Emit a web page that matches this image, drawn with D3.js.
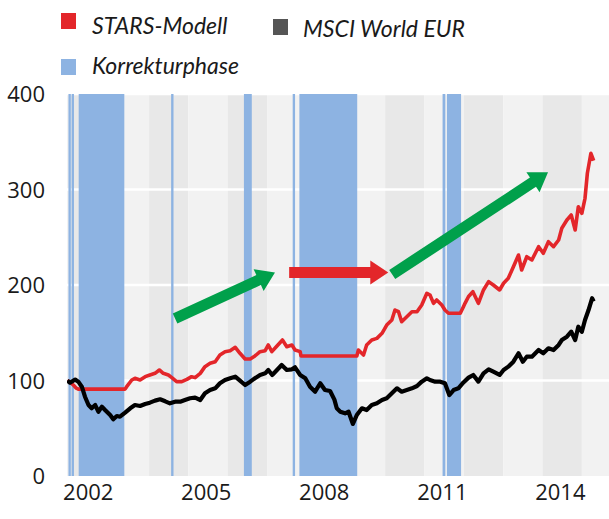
<!DOCTYPE html>
<html>
<head>
<meta charset="utf-8">
<script src="https://cdn.jsdelivr.net/npm/d3@7"></script>
<style>
  body { margin: 0; background: #fff; }
  text { font-family: "Open Sans", "Noto Sans", sans-serif; fill: #1a1a1a; }
  .legend text { font-family: Lato, "Open Sans", sans-serif; }
</style>
</head>
<body>
<svg id="chart" width="609" height="519"></svg>
<script>
// values (decimal year, index value)
const starsData = [
  [2001.92,100],[2002.00,98],[2002.08,95],[2002.15,92],[2002.20,91],[2003.39,91],
  [2003.43,93.5],[2003.56,100.5],[2003.64,102.3],[2003.77,100.5],[2003.90,104],
  [2004.02,105.8],[2004.15,107.5],[2004.26,111],[2004.36,107.5],[2004.49,105.8],
  [2004.57,103.3],[2004.70,98.8],[2004.83,98.8],[2004.96,101.2],[2005.08,104],
  [2005.17,103],[2005.30,107.5],[2005.42,114.5],[2005.55,118],[2005.68,119.7],
  [2005.80,126.7],[2005.93,130.2],[2006.06,131.2],[2006.19,134.8],[2006.31,128.5],
  [2006.44,122.5],[2006.57,122.5],[2006.69,125.7],[2006.82,130.2],[2006.95,131.2],
  [2007.03,137.2],[2007.12,130.2],[2007.25,136.1],[2007.39,142.4],[2007.50,135.4],
  [2007.63,137.2],[2007.71,131.9],[2007.84,130.2],[2007.86,125.7],[2009.28,125.7],
  [2009.32,131.9],[2009.45,126.7],[2009.53,137.2],[2009.66,142.4],[2009.79,144.1],
  [2009.92,149.4],[2010.04,158.1],[2010.17,163.4],[2010.25,173.8],[2010.34,172],
  [2010.42,161.6],[2010.55,166.8],[2010.68,172],[2010.81,172],[2010.93,179],
  [2011.06,191.3],[2011.14,189.5],[2011.23,180.8],[2011.31,184.3],[2011.44,179],
  [2011.52,173.8],[2011.61,170.4],[2011.91,170.4],[2011.99,177.3],[2012.03,180.8],
  [2012.12,188],[2012.23,193],[2012.37,180.8],[2012.50,194.8],[2012.63,203.5],
  [2012.75,200],[2012.91,194.8],[2013.01,201.8],[2013.13,207],[2013.26,219.2],
  [2013.39,231.4],[2013.47,215.7],[2013.60,229.6],[2013.73,226.2],[2013.90,240.1],
  [2014.02,233.2],[2014.15,245.3],[2014.28,240.1],[2014.41,247.1],[2014.49,259.4],
  [2014.62,268.1],[2014.73,273.3],[2014.83,257.6],[2014.91,282],[2015.00,275.1],
  [2015.08,290.8],[2015.14,317],[2015.23,337.9],[2015.30,330.2]
];

const msciData = [
  [2001.92,99.8],[2001.99,97.7],[2002.12,101],[2002.20,98.8],[2002.29,93.5],
  [2002.37,83],[2002.46,74.3],[2002.54,70.9],[2002.63,74.3],[2002.71,67.3],
  [2002.80,72.6],[2002.88,69.1],[2003.01,63.9],[2003.09,59.4],[2003.18,62.8],
  [2003.26,62.1],[2003.39,66.3],[2003.52,70.9],[2003.64,74.3],[2003.77,73.3],
  [2003.90,75.4],[2004.02,76.8],[2004.15,78.9],[2004.28,80.3],[2004.41,78.2],
  [2004.53,76.1],[2004.66,77.8],[2004.79,77.8],[2004.91,79.6],[2005.04,81.4],
  [2005.17,82],[2005.30,79.6],[2005.42,86.6],[2005.55,90],[2005.68,91.8],
  [2005.80,97.1],[2005.93,100.5],[2006.06,102.3],[2006.19,104],[2006.31,99.8],
  [2006.44,95.3],[2006.57,98.8],[2006.69,102.3],[2006.82,105.8],[2006.95,107.5],
  [2007.03,111],[2007.13,105.8],[2007.25,111],[2007.37,116.2],[2007.50,111],
  [2007.63,111.7],[2007.71,113.8],[2007.84,105.8],[2007.97,102.3],[2008.09,93.5],
  [2008.22,88.3],[2008.35,97.1],[2008.47,90],[2008.60,89],[2008.71,80],
  [2008.77,70.9],[2008.86,67.3],[2008.98,65.6],[2009.07,67.3],[2009.18,54.5],
  [2009.28,63.9],[2009.41,70.9],[2009.53,69.1],[2009.66,74.3],[2009.79,76.1],
  [2009.92,79.6],[2010.04,81.4],[2010.17,86.6],[2010.30,91.8],[2010.42,88.3],
  [2010.55,90],[2010.68,91.8],[2010.81,94.2],[2010.93,98.8],[2011.06,102.3],
  [2011.14,100.5],[2011.27,98.8],[2011.40,98.8],[2011.52,97.1],[2011.63,84.8],
  [2011.74,90],[2011.86,91.8],[2011.99,98],[2012.12,103],[2012.24,105.8],
  [2012.37,98.8],[2012.50,107.5],[2012.63,111.7],[2012.75,109.2],[2012.91,105.8],
  [2013.01,111],[2013.13,114.5],[2013.26,119.7],[2013.39,128.5],[2013.50,119.7],
  [2013.60,124.9],[2013.73,124.9],[2013.90,131.9],[2014.02,128.5],[2014.15,133.7],
  [2014.28,131.9],[2014.41,137.2],[2014.49,142.4],[2014.62,145.9],[2014.73,151.1],
  [2014.83,142.4],[2014.91,156.3],[2015.00,151.1],[2015.08,163.4],[2015.17,173.8],
  [2015.26,186.1],[2015.30,182.7]
];

// correction phases (Korrekturphase), start / end as decimal years
const phaseStart = [2001.95, 2002.03, 2002.21, 2004.56, 2006.41, 2007.65, 2007.82, 2011.46, 2011.57];
const phaseEnd   = [2002.01, 2002.09, 2003.37, 2004.62, 2006.61, 2007.71, 2009.29, 2011.53, 2011.93];

const yearLabels = [2002, 2005, 2008, 2011, 2014];
const valueTicks = [0, 100, 200, 300, 400];
const legendLabels = ["STARS-Modell", "MSCI World EUR", "Korrekturphase"];

// arrows in data space: [from, to]
const greenArrows = [
  [[2004.66, 165], [2007.20, 213]],
  [[2010.18, 211], [2014.14, 318]]
];
const redArrows = [
  [[2007.56, 213], [2010.08, 213]]
];

const svg = d3.select("#chart");
const plot = { left: 67, right: 609, top: 94, bottom: 476 };

const x = d3.scaleLinear().domain([2001.913, 2015.69]).range([plot.left, plot.right]);
const y = d3.scaleLinear().domain([0, 400]).range([plot.bottom, plot.top]);

svg.append("defs").append("clipPath").attr("id", "clip")
  .append("rect")
  .attr("x", plot.left).attr("y", plot.top)
  .attr("width", plot.right - plot.left).attr("height", plot.bottom - plot.top);

const g = svg.append("g").attr("clip-path", "url(#clip)");

// alternating year bands
g.selectAll("rect.band")
  .data(d3.range(2001, 2016))
  .enter().append("rect")
  .attr("class", "band")
  .attr("x", d => x(d))
  .attr("y", plot.top)
  .attr("width", d => x(d + 1) - x(d))
  .attr("height", plot.bottom - plot.top)
  .attr("fill", d => d % 2 ? "#f2f2f2" : "#e8e8e8");

// horizontal gridlines
g.selectAll("line.grid")
  .data(valueTicks.filter(d => d > 0))
  .enter().append("line")
  .attr("x1", plot.left).attr("x2", plot.right)
  .attr("y1", d => y(d)).attr("y2", d => y(d))
  .attr("stroke", "#fff").attr("stroke-width", 2.5);

// correction phases
g.selectAll("rect.phase")
  .data(phaseStart)
  .enter().append("rect")
  .attr("class", "phase")
  .attr("x", d => x(d))
  .attr("y", plot.top)
  .attr("width", (d, i) => x(phaseEnd[i]) - x(d))
  .attr("height", plot.bottom - plot.top)
  .attr("fill", "#8db3e2");

const line = d3.line().x(d => x(d[0])).y(d => y(d[1]));

g.append("path").datum(starsData)
  .attr("d", line)
  .attr("fill", "none")
  .attr("stroke", "#e3262a")
  .attr("stroke-width", 3.6)
  .attr("stroke-linejoin", "round");

g.append("path").datum(msciData)
  .attr("d", line)
  .attr("fill", "none")
  .attr("stroke", "#000")
  .attr("stroke-width", 4.2)
  .attr("stroke-linejoin", "round");

// block arrows
function arrowPath(a) {
  const x0 = x(a[0][0]), y0 = y(a[0][1]), x1 = x(a[1][0]), y1 = y(a[1][1]);
  const len = Math.hypot(x1 - x0, y1 - y0);
  const shaft = 5.5, head = 12, headLen = 18;
  const pts = [
    [0, -shaft], [len - headLen, -shaft], [len - headLen, -head], [len, 0],
    [len - headLen, head], [len - headLen, shaft], [0, shaft]
  ];
  const ang = Math.atan2(y1 - y0, x1 - x0);
  return "M" + pts.map(p => [
    x0 + p[0] * Math.cos(ang) - p[1] * Math.sin(ang),
    y0 + p[0] * Math.sin(ang) + p[1] * Math.cos(ang)
  ].join(",")).join("L") + "Z";
}

svg.selectAll("path.garrow")
  .data(greenArrows)
  .enter().append("path")
  .attr("d", arrowPath)
  .attr("fill", "#00a04b");

svg.selectAll("path.rarrow")
  .data(redArrows)
  .enter().append("path")
  .attr("d", arrowPath)
  .attr("fill", "#e3262a");

// axes
const yAxis = svg.append("g")
  .attr("transform", `translate(${plot.left - 22},0)`)
  .call(d3.axisLeft(y).tickValues(valueTicks).tickSize(0).tickPadding(0));
yAxis.select(".domain").remove();
yAxis.selectAll("text")
  .attr("font-size", 22)
  .attr("font-family", null)
  .attr("fill", null)
  .attr("dy", "0.36em");

const xAxis = svg.append("g")
  .attr("transform", `translate(0,${plot.bottom})`)
  .call(d3.axisBottom(x).tickValues(yearLabels.map(d => d + 0.44))
        .tickFormat(d => Math.floor(d)).tickSize(0).tickPadding(0));
xAxis.select(".domain").remove();
xAxis.selectAll("text")
  .attr("font-size", 22)
  .attr("font-family", null)
  .attr("fill", null)
  .attr("dy", "1.1em");

// legend
const legendPos = [[61, 13, 92, 34], [273, 19, 303, 37], [61, 59, 92, 74]];
const legendColors = ["#e3262a", "#555555", "#8db3e2"];
const legend = svg.append("g").attr("class", "legend");
legendLabels.forEach((label, i) => {
  const p = legendPos[i];
  legend.append("rect")
    .attr("x", p[0]).attr("y", p[1])
    .attr("width", 15).attr("height", 16)
    .attr("fill", legendColors[i]);
  legend.append("text")
    .attr("x", p[2]).attr("y", p[3])
    .attr("font-size", 23)
    .attr("font-style", "italic")
    .text(label);
});
</script>
</body>
</html>
